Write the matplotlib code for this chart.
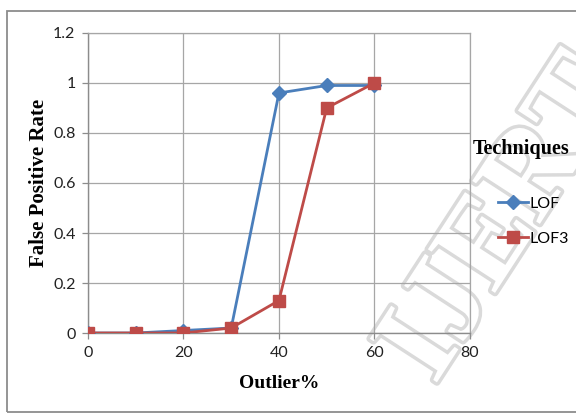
import matplotlib.pyplot as plt
import matplotlib.patheffects as pe
from matplotlib.patches import Rectangle

# outlier percentage vs false positive rate for the two techniques
outlier_pct = [0, 10, 20, 30, 40, 50, 60]
lof = [0, 0, 0.01, 0.02, 0.96, 0.99, 0.99]
lof3 = [0, 0, 0, 0.02, 0.13, 0.9, 1.0]

x_ticks = [0, 20, 40, 60, 80]
y_ticks = [0, 0.2, 0.4, 0.6, 0.8, 1.0, 1.2]
y_tick_labels = ['0', '0.2', '0.4', '0.6', '0.8', '1', '1.2']

tick_font = ['Liberation Sans Narrow', 'Lato', 'DejaVu Sans']
label_font = ['Liberation Serif', 'DejaVu Serif']

fig = plt.figure(figsize=(5.76, 4.16), dpi=100)
ax = fig.add_axes([0.1528, 0.1995, 0.663, 0.7212])
ax.set_facecolor('none')

# outer chart frame
fig.patches.append(Rectangle((0.012, 0.0096), 1.05, 0.964, transform=fig.transFigure,
                             fill=False, edgecolor='#8c8c8c', linewidth=1.3))

# journal watermark, behind the plot
fig.text(0.88, 0.47, 'IJERT', rotation=57, fontsize=88, family=label_font, fontweight='bold',
         color='white', ha='center', va='center', zorder=-1,
         path_effects=[pe.Stroke(linewidth=5, foreground='#dadada'), pe.Normal()])

ax.plot(outlier_pct, lof, color='#4a7ebb', linewidth=2.0, marker='D', markersize=7,
        label='LOF', zorder=3)
ax.plot(outlier_pct, lof3, color='#be4b48', linewidth=2.0, marker='s', markersize=9,
        label='LOF3', zorder=4)

ax.set_xlim(0, 80)
ax.set_ylim(0, 1.2)
ax.set_xticks(x_ticks)
ax.set_yticks(y_ticks)
ax.set_yticklabels(y_tick_labels)
ax.grid(True, color='#a6a6a6', linewidth=0.9)
ax.set_axisbelow(True)
for side in ['top', 'right']:
    ax.spines[side].set_color('#a6a6a6')
    ax.spines[side].set_linewidth(0.9)
for side in ['left', 'bottom']:
    ax.spines[side].set_color('#8c8c8c')
    ax.spines[side].set_linewidth(1.0)
ax.tick_params(direction='out', length=4, width=0.9, color='#8c8c8c', labelsize=11.5,
               pad=5)
for lbl in ax.get_xticklabels() + ax.get_yticklabels():
    lbl.set_family(tick_font)
    lbl.set_color('#222222')

ax.set_xlabel('Outlier%', family=label_font, fontweight='bold', fontsize=14, labelpad=11)
ax.set_ylabel('False Positive Rate', family=label_font, fontweight='bold', fontsize=15,
              labelpad=3)

leg = ax.legend(loc='upper left', bbox_to_anchor=(0.806, 0.685), bbox_transform=fig.transFigure,
                frameon=False, title='Techniques', handlelength=1.9, labelspacing=1.3,
                handletextpad=0.1, borderpad=0,
                prop={'family': tick_font, 'size': 11.5},
                title_fontproperties={'family': label_font, 'weight': 'bold', 'size': 14.5})
leg._legend_box.align = 'right'
leg._legend_box.sep = 27

fig.savefig('out.png', dpi=100)
